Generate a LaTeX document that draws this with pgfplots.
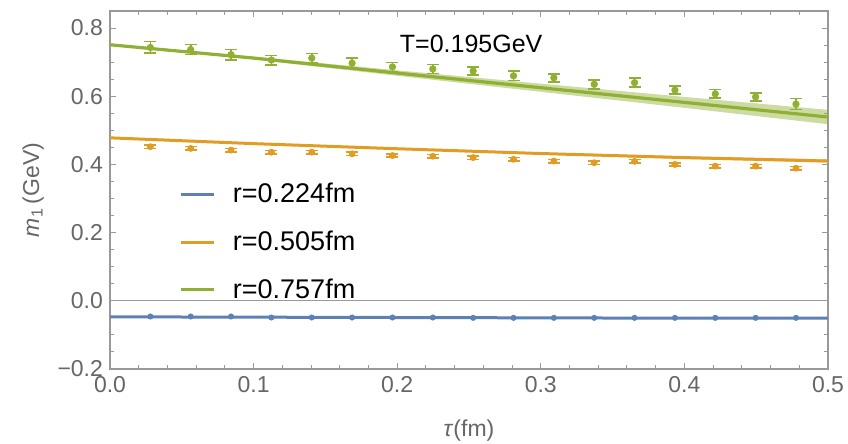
\documentclass[border=0pt]{standalone}
\usepackage{fontspec}
\setmainfont{Liberation Sans}
\usepackage{pgfplots}
\pgfplotsset{compat=1.18}
\definecolor{mblue}{HTML}{5E81B5}
\definecolor{morange}{HTML}{E19C24}
\definecolor{mgreen}{HTML}{8FB032}
\definecolor{fgray}{HTML}{999999}
\definecolor{tgray}{HTML}{666666}
\begin{document}
\begin{tikzpicture}
\useasboundingbox (0,0) rectangle (424pt,222pt);
\begin{axis}[
  at={(55pt,37.5pt)}, anchor=south west,
  scale only axis, width=359pt, height=179pt,
  xmin=0, xmax=0.5, ymin=-0.2, ymax=0.85,
  xtick={0,0.1,0.2,0.3,0.4,0.5},
  xticklabels={0.0,0.1,0.2,0.3,0.4,0.5},
  ytick={-0.2,0,0.2,0.4,0.6,0.8},
  yticklabels={−0.2,0.0,0.2,0.4,0.6,0.8},
  minor x tick num=4, minor y tick num=3,
  major tick length=3pt, minor tick length=1.8pt,
  tick align=inside,
  axis line style={fgray, line width=0.6pt},
  every tick/.style={fgray, line width=0.5pt},
  ticklabel style={font=\fontsize{11.5}{12}\selectfont, text=tgray},
  label style={font=\fontsize{11.5}{12}\selectfont, text=tgray},
  xlabel={\textit{τ}(fm)},
  ylabel={\textit{m}\textsubscript{1}\,(GeV)},
  xlabel style={yshift=-7pt},
  legend style={draw=none, fill=none, at={(0.097,0.525)}, anchor=north west,
    inner sep=0pt, font=\fontsize{13.5}{14}\selectfont, row sep=10.5pt,
    nodes={inner sep=1pt}},
  legend cell align=left,
  legend image code/.code={\draw[#1, line width=1.3pt] (0pt,0pt) -- (16.5pt,0pt); \path (24pt,0pt);},
]
% zero line
\addplot[fgray, line width=0.5pt, forget plot] coordinates {(0,0) (0.5,0)};
% bands
\addplot[fill=mgreen, fill opacity=0.45, draw=none, forget plot] coordinates {
(0,0.752) (0.1,0.716) (0.2,0.676) (0.3,0.637) (0.4,0.598) (0.5,0.560)
(0.5,0.518) (0.4,0.566) (0.3,0.613) (0.2,0.660) (0.1,0.708) (0,0.750)};
\addplot[fill=morange, fill opacity=0.45, draw=none, forget plot] coordinates {
(0,0.479) (0.1,0.462) (0.2,0.448) (0.3,0.435) (0.4,0.424) (0.5,0.415)
(0.5,0.405) (0.4,0.416) (0.3,0.429) (0.2,0.444) (0.1,0.460) (0,0.477)};
\addplot[fill=mblue, fill opacity=0.45, draw=none, forget plot] coordinates {
(0,-0.046) (0.5,-0.049) (0.5,-0.053) (0,-0.048)};
% fit lines
\addplot[mblue, line width=1.5pt] coordinates {(0,-0.047) (0.1,-0.048) (0.2,-0.049) (0.3,-0.050) (0.4,-0.051) (0.5,-0.051)};
\addlegendentry{r=0.224fm}
\addplot[morange, line width=1.5pt] coordinates {(0,0.478) (0.1,0.461) (0.2,0.446) (0.3,0.432) (0.4,0.420) (0.5,0.410)};
\addlegendentry{r=0.505fm}
\addplot[mgreen, line width=1.6pt] coordinates {(0,0.751) (0.1,0.712) (0.2,0.668) (0.3,0.625) (0.4,0.582) (0.5,0.539)};
\addlegendentry{r=0.757fm}
% data points
\addplot[mblue, only marks, mark=*, mark size=1.3pt, forget plot]
  table[x=t, y=m] {
t m
0.0281 -0.046
0.0562 -0.046
0.0843 -0.046
0.1124 -0.049
0.1405 -0.049
0.1686 -0.049
0.1967 -0.049
0.2248 -0.049
0.2529 -0.050
0.2810 -0.050
0.3091 -0.050
0.3372 -0.050
0.3653 -0.050
0.3934 -0.050
0.4215 -0.050
0.4496 -0.050
0.4777 -0.050
};
\addplot[morange, only marks, mark=*, mark size=1.5pt, forget plot,
  error bars/.cd, y dir=both, y explicit, error bar style={line width=0.8pt},
  error mark options={rotate=90, mark size=3pt, line width=0.8pt}]
  table[x=t, y=m, y error=e] {
t m e
0.0281 0.452 0.005
0.0562 0.447 0.005
0.0843 0.442 0.005
0.1124 0.436 0.005
0.1405 0.436 0.005
0.1686 0.431 0.005
0.1967 0.426 0.005
0.2248 0.424 0.005
0.2529 0.420 0.005
0.2810 0.415 0.005
0.3091 0.410 0.005
0.3372 0.405 0.005
0.3653 0.409 0.005
0.3934 0.400 0.005
0.4215 0.395 0.005
0.4496 0.395 0.005
0.4777 0.389 0.005
0.5058 0.384 0.005
};
\addplot[mgreen, only marks, mark=*, mark size=1.6pt, forget plot,
  error bars/.cd, y dir=both, y explicit, error bar style={line width=0.8pt},
  error mark options={rotate=90, mark size=3pt, line width=0.8pt}]
  table[x=t, y=m, y error=e] {
t m e
0.0281 0.743 0.017
0.0562 0.737 0.015
0.0843 0.722 0.015
0.1124 0.706 0.014
0.1405 0.712 0.013
0.1686 0.697 0.015
0.1967 0.686 0.013
0.2248 0.680 0.013
0.2529 0.674 0.012
0.2810 0.660 0.014
0.3091 0.654 0.012
0.3372 0.635 0.013
0.3653 0.640 0.013
0.3934 0.618 0.012
0.4215 0.607 0.013
0.4496 0.598 0.012
0.4777 0.577 0.016
0.5058 0.552 0.016
};
\node[font=\fontsize{12.5}{14}\selectfont, text=black] at (axis cs:0.2515,0.754) {T=0.195GeV};
\end{axis}
\end{tikzpicture}
\end{document}
